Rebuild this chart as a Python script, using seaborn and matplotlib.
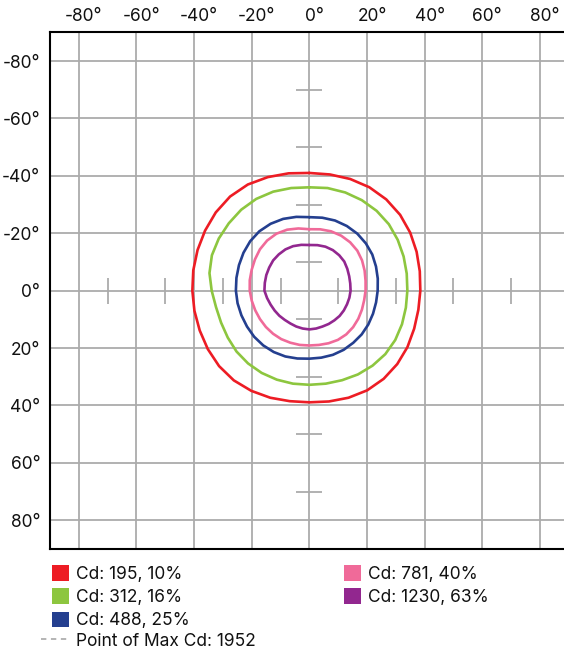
import numpy as np
import pandas as pd
import matplotlib
matplotlib.use('Agg')
import matplotlib.pyplot as plt
import matplotlib.transforms as mtransforms
from matplotlib.patches import Patch
from matplotlib.lines import Line2D
import seaborn as sns

# isocandela levels and their colours
levels = ['Cd: 195, 10%', 'Cd: 312, 16%', 'Cd: 488, 25%', 'Cd: 781, 40%', 'Cd: 1230, 63%']
colors = ['#ED1C24', '#8DC63F', '#243F8F', '#F06A99', '#92278F']
max_label = 'Point of Max Cd: 1952'

# contour radius (degrees) read every 10 deg, clockwise from straight up
angles = [0, 10, 20, 30, 40, 50, 60, 70, 80, 90, 100, 110, 120, 130, 140, 150, 160, 170,
          180, 190, 200, 210, 220, 230, 240, 250, 260, 270, 280, 290, 300, 310, 320, 330, 340, 350]
red_r = [41.0, 41.1, 41.4, 41.6, 41.5, 41.1, 40.4, 39.6, 38.9, 38.5, 38.4, 38.7,
         39.3, 39.8, 40.1, 40.1, 39.7, 39.2, 38.9, 39.1, 39.7, 40.3, 40.8, 40.9,
         40.7, 40.5, 40.5, 40.6, 40.9, 41.3, 41.8, 42.4, 42.8, 42.7, 42.1, 41.5]
green_r = [36.0, 36.3, 36.4, 36.4, 36.3, 36.0, 35.4, 34.8, 34.3, 34.0, 34.0, 34.2,
           34.4, 34.4, 34.1, 33.7, 33.2, 32.9, 32.8, 32.9, 33.0, 33.1, 33.1, 33.0,
           32.7, 32.6, 32.9, 33.9, 35.2, 36.0, 36.3, 36.5, 36.8, 36.9, 36.7, 36.3]
blue_r = [25.6, 25.8, 26.0, 26.0, 25.9, 25.6, 25.2, 24.6, 24.1, 23.7, 23.5, 23.5,
          23.6, 23.7, 23.7, 23.8, 23.8, 23.7, 23.7, 24.0, 24.4, 24.7, 24.9, 25.0,
          25.0, 25.1, 25.3, 25.5, 25.7, 26.0, 26.4, 26.8, 27.0, 26.9, 26.6, 26.1]
pink_r = [21.4, 21.7, 22.0, 22.1, 22.0, 21.7, 21.1, 20.4, 19.8, 19.5, 19.3, 19.4,
          19.6, 19.8, 19.9, 19.8, 19.5, 19.2, 19.1, 19.2, 19.3, 19.5, 19.6, 19.7,
          19.8, 20.0, 20.3, 20.7, 21.0, 21.3, 21.8, 22.4, 22.8, 22.9, 22.6, 22.0]
purple_r = [15.9, 16.1, 16.3, 16.3, 16.1, 15.8, 15.2, 14.7, 14.4, 14.3, 14.1, 13.9,
            13.8, 13.7, 13.5, 13.4, 13.3, 13.4, 13.5, 13.4, 13.3, 13.2, 13.3, 13.6,
            13.9, 14.3, 14.9, 15.6, 15.7, 15.9, 16.1, 16.4, 16.5, 16.6, 16.5, 16.2]

grid_ticks = [-80, -60, -40, -20, 0, 20, 40, 60, 80]
cross_ticks = [-70, -50, -30, -10, 10, 30, 50, 70]

sns.set_theme(style='white')
plt.rcParams['font.family'] = ['Inter', 'DejaVu Sans']

# polar readings -> plot coordinates (y axis points down), closed loops
theta = np.deg2rad(np.append(angles, angles[0]))
frames = []
for name, radii in zip(levels, [red_r, green_r, blue_r, pink_r, purple_r]):
    r = np.append(radii, radii[0])
    frames.append(pd.DataFrame({'x': r * np.sin(theta), 'y': -r * np.cos(theta),
                                'level': name}))
df = pd.concat(frames, ignore_index=True)

fig = plt.figure(figsize=(5.64, 6.49), dpi=100)
ax = fig.add_axes([50 / 564, 1 - 549 / 649, 518.75 / 564, (549 - 32.3) / 649])

grid_color = '#ababab'
ax.set_xlim(-90, 90)
ax.set_ylim(90, -90)
ax.set_xticks(grid_ticks)
ax.set_yticks(grid_ticks)
ax.set_xticklabels([f'{t}°' for t in grid_ticks])
ax.set_yticklabels([f'{t}°' for t in grid_ticks])
ax.xaxis.tick_top()
ax.tick_params(axis='x', length=0, pad=5, labelsize=12.5, colors='#111111')
ax.tick_params(axis='y', length=0, pad=7, labelsize=12.5, colors='#111111')
ax.grid(True, color=grid_color, lw=1.3)
ax.set_axisbelow(True)
for side in ['top', 'left', 'bottom']:
    ax.spines[side].set_color('black')
    ax.spines[side].set_linewidth(1.5)
ax.spines['right'].set_visible(False)

# shift top labels so the number (not the degree sign) sits on the grid line
offset = mtransforms.ScaledTranslation(5 / 100, 0, fig.dpi_scale_trans)
for lab in ax.get_xticklabels():
    lab.set_transform(lab.get_transform() + offset)

# small tick marks along the centre cross
ax.vlines(cross_ticks, -4.5, 4.5, color=grid_color, lw=1.3, zorder=1)
ax.hlines(cross_ticks, -4.5, 4.5, color=grid_color, lw=1.3, zorder=1)

sns.lineplot(data=df, x='x', y='y', hue='level', units='level', sort=False,
             estimator=None, palette=colors, lw=1.9, legend=False, ax=ax, zorder=3)
for ln in ax.lines:
    ln.set_solid_joinstyle('round')
ax.set_xlabel('')
ax.set_ylabel('')

leg_kw = dict(loc='upper left', frameon=False, fontsize=12.5, handlelength=1.0,
              handleheight=1.0, handletextpad=0.4, labelspacing=0.32,
              borderpad=0, borderaxespad=0)
h1 = [Patch(facecolor=c, edgecolor='none', label=l) for c, l in zip(colors[:3], levels[:3])]
h2 = [Patch(facecolor=c, edgecolor='none', label=l) for c, l in zip(colors[3:], levels[3:])]
leg1 = fig.legend(handles=h1, bbox_to_anchor=(52 / 564, 1 - 565 / 649), **leg_kw)
leg2 = fig.legend(handles=h2, bbox_to_anchor=(344 / 564, 1 - 565 / 649), **leg_kw)
leg_kw3 = dict(leg_kw)
leg_kw3['handlelength'] = 1.6
h3 = [Line2D([0], [0], color='#a0a0a0', lw=1.1, ls=(0, (3.5, 3)), label=max_label)]
leg3 = fig.legend(handles=h3, bbox_to_anchor=(41 / 564, 1 - 632.5 / 649), **leg_kw3)
for leg in (leg1, leg2, leg3):
    for t in leg.get_texts():
        t.set_color('#111111')

fig.savefig('out.png', dpi=100)
